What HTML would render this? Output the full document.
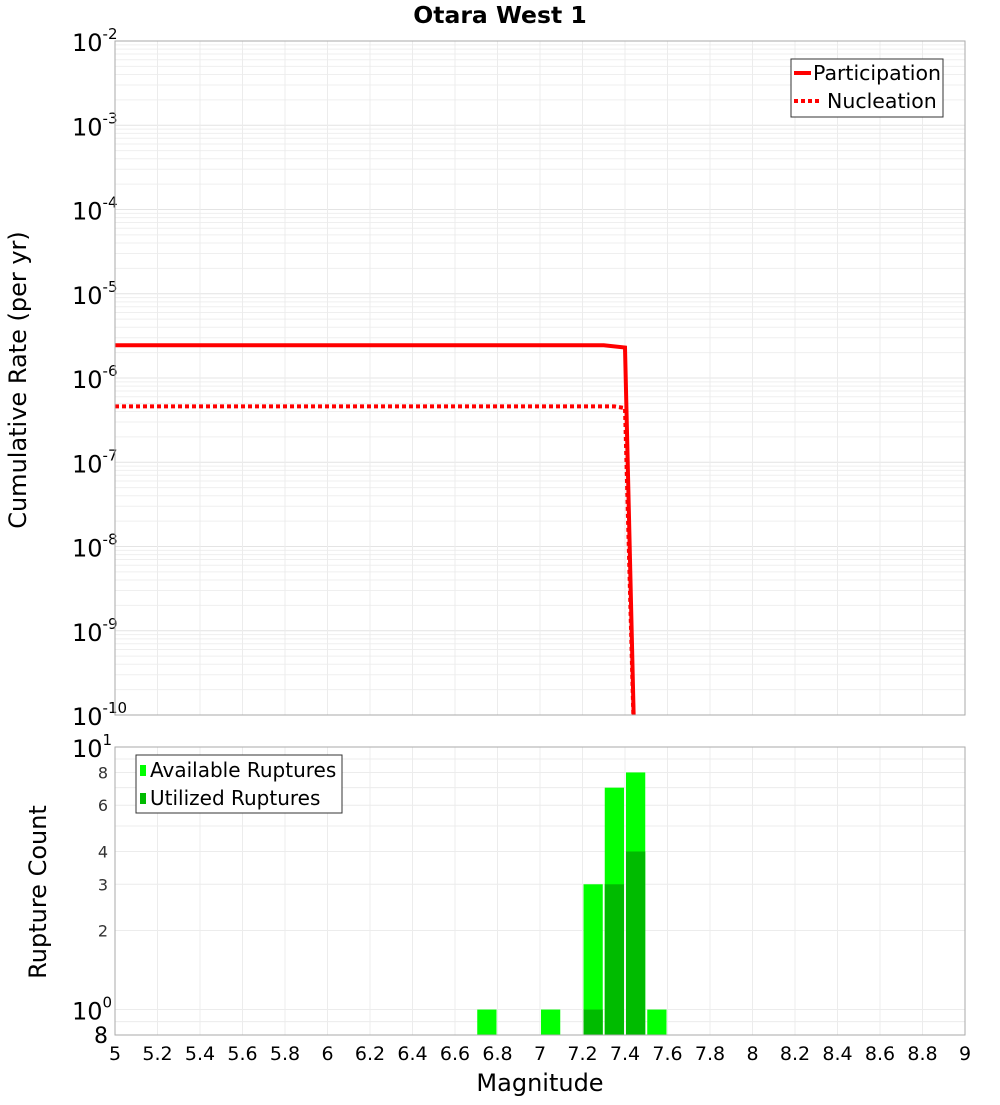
<!DOCTYPE html>
<html><head><meta charset="utf-8"><style>
body{margin:0;background:#fff;font-family:"Liberation Sans","DejaVu Sans",sans-serif}
svg text{font-family:"DejaVu Sans","Liberation Sans",sans-serif}
</style></head><body>
<svg id="c" width="1000" height="1100" xmlns="http://www.w3.org/2000/svg"></svg>
<script>
const partMag=[5.0,7.3,7.4,7.45];
const partRate=[2.45e-6,2.45e-6,2.3e-6,1e-11];
const nuclMag=[5.0,7.35,7.4,7.45];
const nuclRate=[4.6e-7,4.6e-7,4.4e-7,1e-11];
const binMag=[6.75,7.05,7.25,7.35,7.45,7.55];
const availCount=[1,1,3,7,8,1];
const utilMag=[7.25,7.35,7.45];
const utilCount=[1,3,4];
const xTicks=[5,5.2,5.4,5.6,5.8,6,6.2,6.4,6.6,6.8,7,7.2,7.4,7.6,7.8,8,8.2,8.4,8.6,8.8,9];
const topExps=[-2,-3,-4,-5,-6,-7,-8,-9,-10];
const botTicks=[8,6,4,3,2];

const NS="http://www.w3.org/2000/svg",svg=document.getElementById('c');
function el(t,a,p){const e=document.createElementNS(NS,t);for(const k in a)e.setAttribute(k,a[k]);(p||svg).appendChild(e);return e;}
const X0=115,X1=965;
const x=m=>X0+(m-5)/4*(X1-X0);
const T0=41,T1=715;
const yT=v=>T0+(-2-Math.log10(v))/8*(T1-T0);
const B0=747,B1=1035;
const yB=v=>B0+(1-Math.log10(v))/(1-Math.log10(0.8))*(B1-B0);

const gt=el('g',{});
for(let e=-10;e<-2;e++)for(let k=1;k<10;k++){const y=yT(k*Math.pow(10,e));el('line',{x1:X0,x2:X1,y1:y,y2:y,stroke:k==1?'#e4e4e4':'#efefef','stroke-width':1},gt);}
for(let m=5;m<=9.001;m+=0.2){el('line',{x1:x(m),x2:x(m),y1:T0,y2:T1,stroke:'#ececec'},gt);}
const gb=el('g',{});
[0.8,0.9,1,2,3,4,5,6,7,8,9].forEach(v=>{const y=yB(v);el('line',{x1:X0,x2:X1,y1:y,y2:y,stroke:'#ececec'},gb);});
for(let m=5;m<=9.001;m+=0.2){el('line',{x1:x(m),x2:x(m),y1:B0,y2:B1,stroke:'#ececec'},gb);}

let t=el('text',{x:500,y:23,'text-anchor':'middle','font-size':23.5,'font-weight':'bold',});t.textContent='Otara West 1';

topExps.forEach(e=>{const y=yT(Math.pow(10,e));const tx=el('text',{x:72,y:y+10,'font-size':24,});tx.innerHTML='10<tspan font-size="15" dy="-12">'+e+'</tspan>';});
t=el('text',{x:0,y:0,transform:'translate(26,380) rotate(-90)','text-anchor':'middle','font-size':24,});t.textContent='Cumulative Rate (per yr)';

const cp=el('clipPath',{id:'cp'});
el('rect',{x:X0,y:T0,width:X1-X0,height:T1-T0},cp);
let p=el('polyline',{points:partMag.map((m,i)=>x(m)+','+yT(partRate[i])).join(' '),fill:'none',stroke:'#ff0000','stroke-width':4,'clip-path':'url(#cp)'});

p=el('polyline',{points:nuclMag.map((m,i)=>x(m)+','+yT(nuclRate[i])).join(' '),fill:'none',stroke:'#ff0000','stroke-width':4,'stroke-dasharray':'4,3','clip-path':'url(#cp)'});

el('rect',{x:X0,y:T0,width:X1-X0,height:T1-T0,fill:'none',stroke:'#aaa',});

const lg=el('g',{});
el('rect',{x:791,y:59,width:152,height:58,fill:'#fff',stroke:'#333'},lg);
el('line',{x1:794,x2:811,y1:73,y2:73,stroke:'#f00','stroke-width':4},lg);
el('line',{x1:794,x2:822,y1:101,y2:101,stroke:'#f00','stroke-width':4,'stroke-dasharray':'4,3'},lg);
t=el('text',{x:813,y:80,'font-size':20.5},lg);t.textContent='Participation';
t=el('text',{x:827,y:108,'font-size':20.5},lg);t.textContent='Nucleation';

availCount.forEach((c,i)=>{const r=el('rect',{x:x(binMag[i]-0.05)+1,y:yB(c),width:x(5.1)-x(5)-2,height:B1-yB(c),fill:'#00ff00'});
});
utilCount.forEach((c,i)=>{const r=el('rect',{x:x(utilMag[i]-0.05)+1,y:yB(c),width:x(5.1)-x(5)-2,height:B1-yB(c),fill:'#00bb00'});
});
el('rect',{x:X0,y:B0,width:X1-X0,height:B1-B0,fill:'none',stroke:'#aaa',});

[[10,'1'],[1,'0']].forEach(([v,e])=>{const tx=el('text',{x:72,y:yB(v)+10,'font-size':24,});tx.innerHTML='10<tspan font-size="15" dy="-12">'+e+'</tspan>';});
botTicks.forEach(v=>{const tx=el('text',{x:108,y:yB(v)+6,'text-anchor':'end','font-size':16,fill:'#333',});tx.textContent=v;});
t=el('text',{x:108,y:1043,'text-anchor':'end','font-size':22,});t.textContent='8';
t=el('text',{x:0,y:0,transform:'translate(46,892) rotate(-90)','text-anchor':'middle','font-size':24,});t.textContent='Rupture Count';

xTicks.forEach(m=>{const tx=el('text',{x:x(m),y:1060,'text-anchor':'middle','font-size':19,});tx.textContent=String(m);});
t=el('text',{x:540,y:1091,'text-anchor':'middle','font-size':24,});t.textContent='Magnitude';

const lb=el('g',{});
el('rect',{x:136,y:755,width:206,height:58,fill:'#fff',stroke:'#333'},lb);
el('rect',{x:140,y:765,width:6,height:11,fill:'#00ff00'},lb);
el('rect',{x:140,y:793,width:6,height:11,fill:'#00bb00'},lb);
t=el('text',{x:150,y:777,'font-size':20},lb);t.textContent='Available Ruptures';
t=el('text',{x:150,y:805,'font-size':20},lb);t.textContent='Utilized Ruptures';
</script>
</body></html>
